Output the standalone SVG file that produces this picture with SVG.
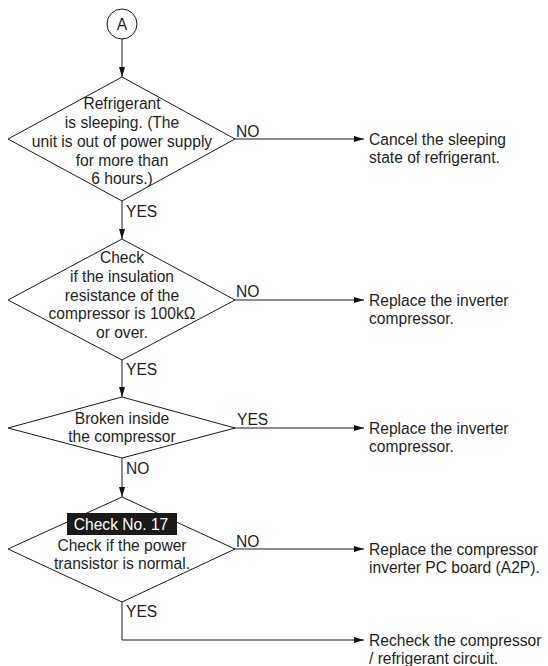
<svg xmlns="http://www.w3.org/2000/svg" width="548" height="666" viewBox="0 0 548 666">
<defs>
<marker id="ah" viewBox="0 0 10 6" refX="10" refY="3" markerWidth="10" markerHeight="6" markerUnits="userSpaceOnUse" orient="auto">
<path d="M0,0 L10,3 L0,6 Z" fill="#111"/>
</marker>
<style>
text{font-family:"Liberation Sans",Arial,sans-serif;font-size:15.6px;fill:#1e1e1e}
.c{text-anchor:middle}
.shape{fill:#fff;stroke:#1a1a1a;stroke-width:1}
.ln{fill:none;stroke:#1a1a1a;stroke-width:1}
.w{fill:#fff}
</style>
</defs>
<rect width="548" height="666" fill="#fff"/>
<g id="connectors">
<line class="ln" x1="122" y1="39" x2="122" y2="77" marker-end="url(#ah)"/>
<line class="ln" x1="122" y1="201" x2="122" y2="239" marker-end="url(#ah)"/>
<line class="ln" x1="122" y1="360" x2="122" y2="397" marker-end="url(#ah)"/>
<line class="ln" x1="122" y1="458" x2="122" y2="497" marker-end="url(#ah)"/>
<polyline class="ln" points="122,602 122,640 364,640" marker-end="url(#ah)"/>
<line class="ln" x1="234" y1="139" x2="364" y2="139" marker-end="url(#ah)"/>
<line class="ln" x1="234" y1="300" x2="364" y2="300" marker-end="url(#ah)"/>
<line class="ln" x1="234" y1="428" x2="364" y2="428" marker-end="url(#ah)"/>
<line class="ln" x1="234" y1="549" x2="364" y2="549" marker-end="url(#ah)"/>
<text x="236" y="137">NO</text>
<text x="126" y="217">YES</text>
<text x="236" y="297">NO</text>
<text x="126" y="375">YES</text>
<text x="237" y="425">YES</text>
<text x="126" y="474">NO</text>
<text x="236" y="547">NO</text>
<text x="126" y="617">YES</text>
</g>
<g id="start">
<circle class="shape" cx="122" cy="24" r="15"/>
<text class="c" x="122" y="30">A</text>
</g>
<g id="d1">
<polygon class="shape" points="122,77 235,139 122,201 8,139"/>
<text class="c" x="122" y="109">Refrigerant</text>
<text class="c" x="122" y="128">is sleeping. (The</text>
<text class="c" x="122" y="147">unit is out of power supply</text>
<text class="c" x="122" y="165.5">for more than</text>
<text class="c" x="122" y="184">6 hours.)</text>
</g>
<g id="d2">
<polygon class="shape" points="122,239 235,300 122,360 8,300"/>
<text class="c" x="122" y="263">Check</text>
<text class="c" x="122" y="282">if the insulation</text>
<text class="c" x="122" y="300.5">resistance of the</text>
<text class="c" x="122" y="319">compressor is 100kΩ</text>
<text class="c" x="122" y="338">or over.</text>
</g>
<g id="d3">
<polygon class="shape" points="122,397 235,428 122,458 8,428"/>
<text class="c" x="122" y="424">Broken inside</text>
<text class="c" x="122" y="442">the compressor</text>
</g>
<g id="d4">
<polygon class="shape" points="122,497 235,549 122,602 8,549"/>
<rect x="67" y="513" width="110" height="22" fill="#1a1a1a"/>
<text class="c w" x="121" y="530">Check No. 17</text>
<text class="c" x="122" y="551">Check if the power</text>
<text class="c" x="122" y="569">transistor is normal.</text>
</g>
<g id="r1">
<text x="369" y="145">Cancel the sleeping</text>
<text x="369" y="163">state of refrigerant.</text>
</g>
<g id="r2">
<text x="369" y="306">Replace the inverter</text>
<text x="369" y="324">compressor.</text>
</g>
<g id="r3">
<text x="369" y="434">Replace the inverter</text>
<text x="369" y="452">compressor.</text>
</g>
<g id="r4">
<text x="369" y="555">Replace the compressor</text>
<text x="369" y="573">inverter PC board (A2P).</text>
</g>
<g id="r5">
<text x="369" y="646">Recheck the compressor</text>
<text x="369" y="664">/ refrigerant circuit.</text>
</g>
</svg>
